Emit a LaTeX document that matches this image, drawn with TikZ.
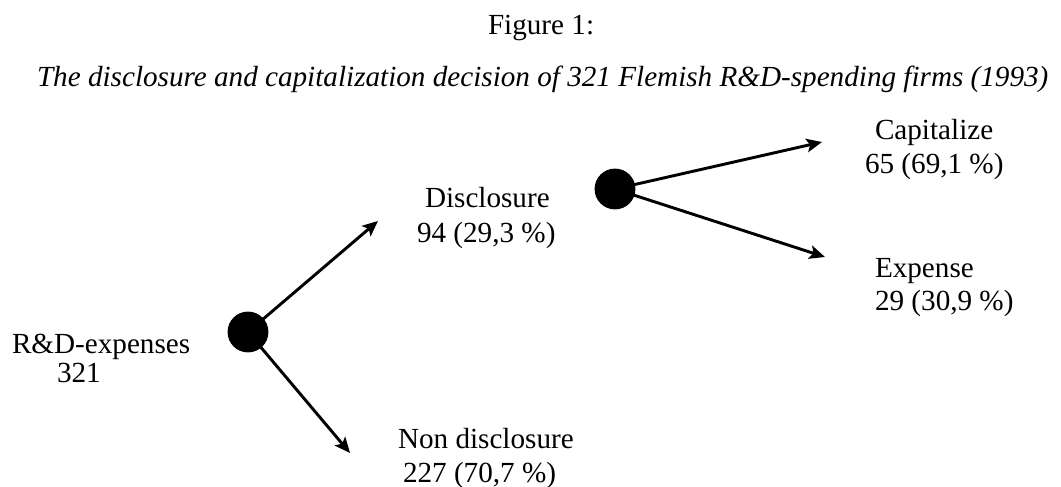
\documentclass[tikz,border=0pt]{standalone}
\usepackage{fontspec}
\setmainfont{Liberation Serif}
\usepackage{xcolor}
\usepackage{tikz}
\usetikzlibrary{positioning,arrows.meta}
\definecolor{ink}{HTML}{000000}
\tikzset{
  lab/.style      = {font=\fontsize{12}{14}\selectfont\color{ink}, anchor=base west, inner sep=0pt, outer sep=0pt},
  headline/.style = {font=\fontsize{12}{14}\selectfont\itshape\color{ink}, anchor=base west, inner sep=0pt, outer sep=0pt},
  chance/.style   = {circle, fill=ink, draw=ink, minimum size=16.4pt, inner sep=0pt, outer sep=0pt},
  flow/.style     = {-{Stealth[length=6.4pt,width=5.6pt,inset=1.4pt]}, draw=ink, line width=1.2pt},
}
\begin{document}
\begin{tikzpicture}[x=0.4115pt,y=-0.4115pt]
\path[use as bounding box] (0,0) rectangle (1061,487);

\node[lab]      (fig)   at (488,35) {Figure 1:};
\node[headline] (title) at (37,87)  {The disclosure and capitalization decision of 321 Flemish R\&D-spending firms (1993)};

% ---- first decision -----------------------------------------------------
\node[lab] (rd)    at (12,353) {R\&D-expenses};
\node[lab] (rdnum) at (57,382) {321};
\node[chance] (nodeA) at (248,332) {};

\node[lab] (disc)      at (425,208) {Disclosure};
\node[lab] (discnum)   at (417,242) {94 (29,3 \%)};
\node[lab] (nondisc)   at (398,448) {Non disclosure};
\node[lab] (nondiscnum) at (403,482) {227 (70,7 \%)};

\coordinate (tipdisc)    at (378,221);
\coordinate (tipnondisc) at (350,453);
\draw[flow] (nodeA) -- (tipdisc);
\draw[flow] (nodeA) -- (tipnondisc);

% ---- second decision ----------------------------------------------------
\node[chance] (nodeB) at (615,189) {};

\node[lab] (cap)    at (875,140) {Capitalize};
\node[lab] (capnum) at (865,174) {65 (69,1 \%)};
\node[lab] (exp)    at (875,277) {Expense};
\node[lab] (expnum) at (875,310) {29 (30,9 \%)};

\coordinate (tipcap) at (822,142);
\coordinate (tipexp) at (825,257);
\draw[flow] (nodeB) -- (tipcap);
\draw[flow] (nodeB) -- (tipexp);

\end{tikzpicture}
\end{document}
